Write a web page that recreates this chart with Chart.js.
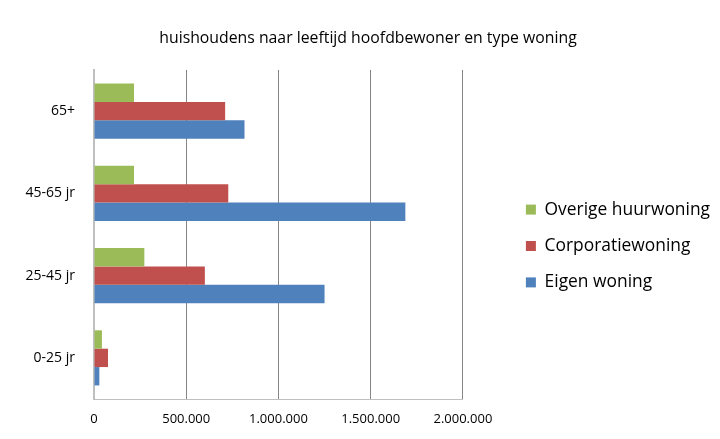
<!DOCTYPE html>
<html>
<head>
<meta charset="utf-8">
<script src="https://cdn.jsdelivr.net/npm/chart.js@4"></script>
<style>
  html, body { margin: 0; padding: 0; background: #fff; }
  #wrap { width: 720px; height: 439px; }
</style>
</head>
<body>
<div id="wrap"><canvas id="chart" width="720" height="439"></canvas></div>
<script>
// Data (top to bottom as shown)
const leeftijden = ['65+', '45-65 jr', '25-45 jr', '0-25 jr'];
const overigeHuur = [217000, 217000, 273000, 43000];
const corporatie = [711000, 728000, 601000, 76000];
const eigenWoning = [816000, 1688000, 1250000, 29000];
const xTicks = [0, 500000, 1000000, 1500000, 2000000];

Chart.defaults.font.family = '"Open Sans", sans-serif';
Chart.defaults.color = '#262626';

function dots(v) {
  return String(v).replace(/\B(?=(\d{3})+(?!\d))/g, '.');
}

new Chart(document.getElementById('chart'), {
  type: 'bar',
  data: {
    labels: leeftijden,
    datasets: [
      { label: 'Overige huurwoning', data: overigeHuur, backgroundColor: '#9BBB59' },
      { label: 'Corporatiewoning', data: corporatie, backgroundColor: '#C0504D' },
      { label: 'Eigen woning', data: eigenWoning, backgroundColor: '#4F81BD' }
    ]
  },
  options: {
    responsive: false,
    animation: false,
    indexAxis: 'y',
    categoryPercentage: 0.67,
    barPercentage: 1,
    layout: { padding: { top: 29, bottom: 0, left: 16, right: 0 } },
    plugins: {
      title: {
        display: true,
        text: 'huishoudens naar leeftijd hoofdbewoner en type woning',
        color: '#000',
        font: { size: 15.8, weight: 'normal' },
        padding: { top: 0, bottom: 22 }
      },
      legend: {
        position: 'right',
        maxWidth: 300,
        title: { display: true, text: ' ', padding: 0, font: { size: 20 } },
        labels: {
          boxWidth: 10,
          boxHeight: 10,
          padding: 19,
          color: '#000',
          font: { size: 17.4 }
        }
      },
      tooltip: { enabled: false }
    },
    scales: {
      x: {
        min: 0,
        max: 2000000,
        afterBuildTicks: function(axis) {
          axis.ticks = xTicks.map(v => ({ value: v }));
        },
        afterFit: function(axis) { axis.height = 40; },
        grid: { color: '#868686', drawTicks: false },
        border: { color: '#BFBFBF', width: 1 },
        ticks: {
          padding: 12,
          color: '#000',
          font: { size: 13 },
          callback: function(value) { return dots(value); }
        }
      },
      y: {
        afterFit: function(axis) { axis.width = 78; },
        grid: { display: false },
        border: { color: '#BFBFBF', width: 2 },
        ticks: {
          padding: 11,
          color: '#000',
          font: { size: 14 }
        }
      },
      gap: {
        type: 'category',
        axis: 'y',
        position: 'right',
        afterFit: function(axis) { axis.width = 44; },
        grid: { display: false },
        border: { display: false },
        ticks: { display: false }
      }
    }
  }
});
</script>
</body>
</html>
